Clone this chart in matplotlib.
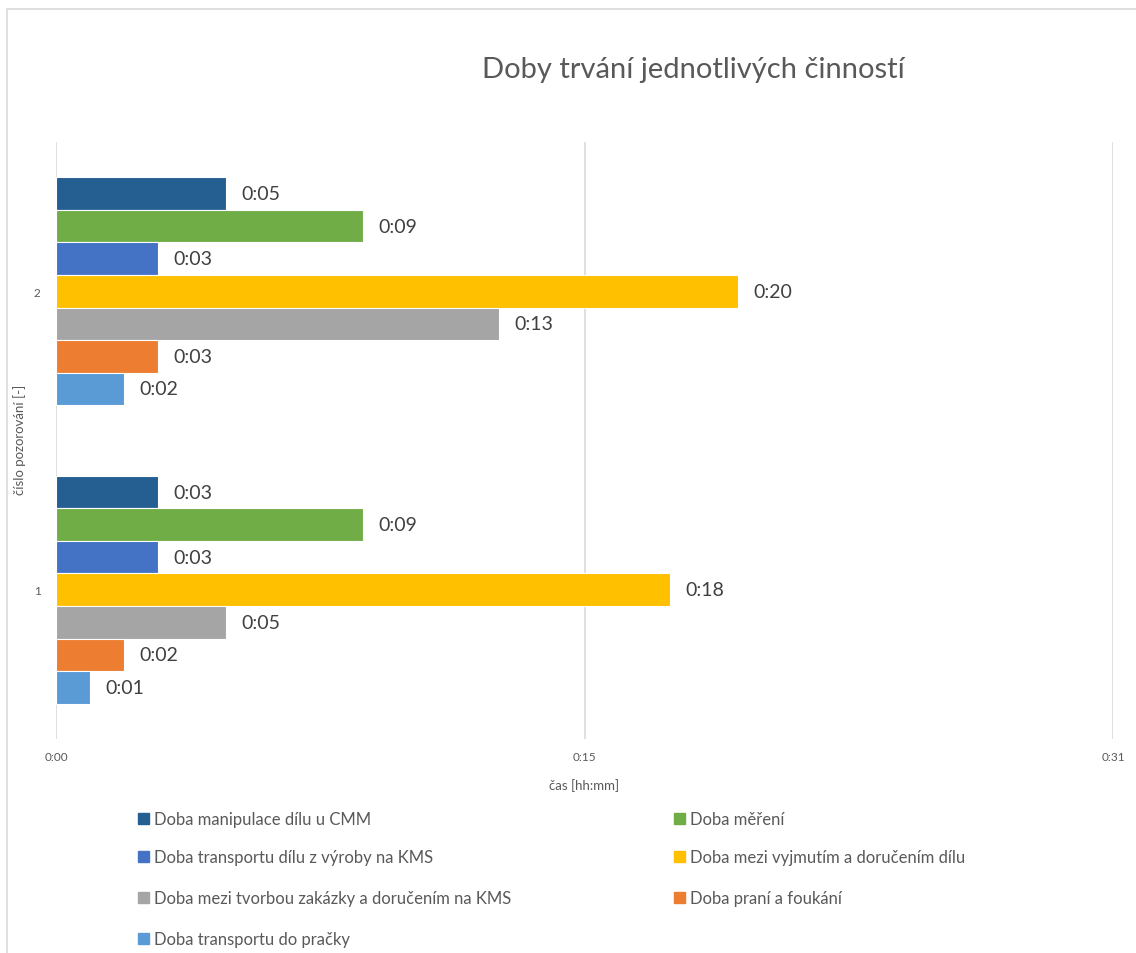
import matplotlib.pyplot as plt
from matplotlib.patches import Rectangle

plt.rcParams['font.family'] = ['Lato', 'DejaVu Sans']

# observation numbers (category axis)
observations = ["1", "2"]

# activity names, in legend order (top bar first)
activities = [
    "Doba manipulace dílu u CMM",
    "Doba měření",
    "Doba transportu dílu z výroby na KMS",
    "Doba mezi vyjmutím a doručením dílu",
    "Doba mezi tvorbou zakázky a doručením na KMS",
    "Doba praní a foukání",
    "Doba transportu do pračky",
]

# durations in minutes, one list per activity: [obs 1, obs 2]
manipulace = [3, 5]
mereni = [9, 9]
transport_vyroba = [3, 3]
vyjmuti_doruceni = [18, 20]
tvorba_doruceni = [5, 13]
prani = [2, 3]
transport_pracka = [1, 2]

series = [manipulace, mereni, transport_vyroba, vyjmuti_doruceni,
          tvorba_doruceni, prani, transport_pracka]

colors = ["#255E91", "#70AD47", "#4472C4", "#FFC000",
          "#A5A5A5", "#ED7D31", "#5B9BD5"]

x_ticks = [0, 15.5, 31]
x_tick_labels = ["0:00", "0:15", "0:31"]


def fmt_time(minutes):
    return "%d:%02d" % (minutes // 60, minutes % 60)


W, H = 1136, 954
fig = plt.figure(figsize=(W / 100, H / 100), dpi=100)

# chart frame
fig.patches.append(Rectangle((7 / W, -0.01), 1.02, 1 - 10 / H + 0.01,
                             transform=fig.transFigure, fill=False,
                             edgecolor="#D9D9D9", linewidth=1.2))

ax = fig.add_axes([56 / W, 1 - 740 / H, (1113 - 56) / W, (740 - 143) / H])

n = len(series)
bar_h = 0.109
pos = list(range(len(observations)))
for i, (vals, col) in enumerate(zip(series, colors)):
    offset = ((n - 1) / 2 - i) * bar_h
    ys = [p + offset for p in pos]
    ax.barh(ys, vals, height=bar_h, color=col, edgecolor="white",
            linewidth=0.8, zorder=3)
    for y, v in zip(ys, vals):
        ax.annotate(fmt_time(v), (v, y), xytext=(11, 0),
                    textcoords="offset points", ha="left", va="center",
                    fontsize=14, color="#404040")

ax.set_xlim(0, 31)
ax.set_ylim(-0.5, 1.5)
ax.set_xticks(x_ticks)
ax.set_xticklabels(x_tick_labels)
ax.set_yticks(pos)
ax.set_yticklabels(observations)
ax.tick_params(axis="both", length=0, labelsize=8.5, labelcolor="#595959")
ax.tick_params(axis="x", pad=9)
ax.tick_params(axis="y", pad=11)
ax.grid(axis="x", color="#D9D9D9", linewidth=1.2, zorder=0)
for s in ax.spines.values():
    s.set_visible(False)

ax.set_xlabel("čas [hh:mm]", fontsize=9.5, color="#595959", labelpad=11)
fig.text(20 / W, 1 - 440 / H, "číslo pozorování [-]", rotation=90,
         ha="center", va="center", fontsize=9.5, color="#595959")

fig.text(693 / W, 1 - 70 / H, "Doby trvání jednotlivých činností",
         ha="center", va="center", fontsize=21, color="#595959")

# legend, two columns
col_x = [138, 674]
row_y = [820, 858, 899, 940]
for i, (name, col) in enumerate(zip(activities, colors)):
    x0 = col_x[i % 2]
    y0 = row_y[i // 2]
    fig.patches.append(Rectangle((x0 / W, 1 - (y0 + 5) / H), 11 / W, 11 / H,
                                 transform=fig.transFigure, color=col))
    fig.text((x0 + 16) / W, 1 - y0 / H, name, ha="left", va="center",
             fontsize=12, color="#595959")

fig.savefig("out.png", dpi=100)
